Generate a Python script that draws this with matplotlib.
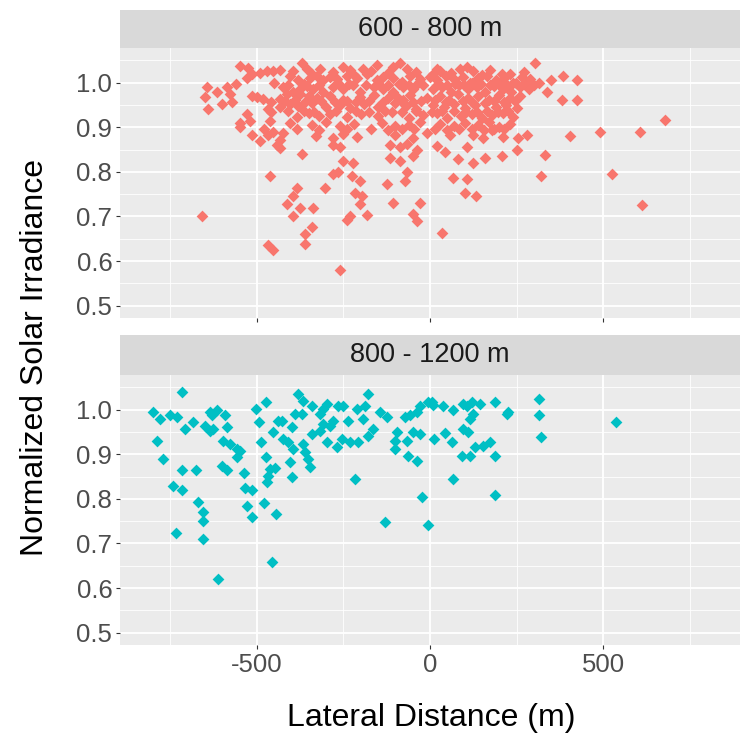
import matplotlib
matplotlib.use("Agg")
import matplotlib.pyplot as plt
import numpy as np

plt.rcParams['font.family'] = ['Liberation Sans', 'DejaVu Sans']

panel_titles = ["600 - 800 m", "800 - 1200 m"]
colors = ["#F8766D", "#00BFC4"]
x_ticks = [-500, 0, 500]
y_ticks = [0.5, 0.6, 0.7, 0.8, 0.9, 1.0]

top_x = [
    -549, -526, -514, -471, -454, -434, -370, -356, -318, -251, -231, -194, -153, -107, -87, -66, 20, 29, 87, 107, 124, 173, 208, 303,
    -529, -405, -380, -347, -327, -309, -290, -269, -240, -211, -182, -153, -136, -107, -80, -58, -29, 0, 20, 45, 70, 95, 115, 140, 165, 190, 215, 240, 265, 290, 315, 350, 384, 425,
    -644, -616, -587, -425, -396, -376, -355, -338, -309, -280, -251, -222, -202, -163, -136, -107, -78, -49, -20, 9, 35, 60, 85, 110, 135, 160, 185, 210, 235, 260, 285, 338,
    -650, -578, -514, -500, -483, -434, -413, -376, -350, -327, -289, -251, -202, -163, -120, -97, -78, -58, -10, 30, 55, 80, 110, 140, 170, 200, 230, 260, 381, 425,
    -641, -601, -572, -468, -434, -405, -380, -340, -300, -260, -230, -190, -150, -100, -70, -40, 10, 40, 70, 100, 130, 160, 190, 220, 250,
    -529, -384, -350, -320, -290, -240, -200, -150, -110, -60, -20, 20, 49, 90, 120, 150, 180, 210, 240, 679,
    -549, -520, -462, -405, -549, -340, -300, -260, -220, -140, -100, -60, -30, 30, 70, 100, 140, 170, 200, 230,
    -514, -491, -454, -468, -425, -434, -330, -280, -250, -210, -100, -50, -10, 58, 124, 153, 179, 211, 254, 280, 404, 491, 607,
    -442, -434, -370, -280, -260, -116, -87, -66, -38, 20, 43, 107, 251, 332,
    -251, -222, -116, -87, -49, 81, 124, 159, 208,
    -462, -659, -384, -396, -413, -376, -396, -361, -361, -468, -454, -280, -266, -225, -202, -303, -217, -196, -202, -338,
    -182, -231, -240, -341, -260, -124, -66, -72, -107, -29, -49, -38, 35, 66, 107, 101, 133, 321, 526, 613,
    -490, -395, -340, -280, -220, -170, -120, -40, 10, 60, 150, 230, 270,
    -560, -450, -410, -365, -320, -265, -235, -185, -150, -120, -90, -60, -35, 22, 48, 72, 98, 122, 148, 172, 198, 222, 248, 272, 300,
    -460, -420, -390, -360, -315, -275, -240, -215, -175, -135, -85, -50, -25, 15, 45, 95, 120, 185, 215, 245,
    -460, -410, -365, -335, -270, -215, -175, -130, -80, -40, 5, 35, 70, 105, 135, 165, 195, 225,
    -480, -385, -320, -240, -170, -120, -80, -45, 15, 50, 85, 120, 155, 185, 215,
]
top_y = [
    1.037, 1.032, 1.02, 1.025, 1.025, 1.028, 1.044, 1.03, 1.03, 1.035, 1.028, 1.03, 1.04, 1.035, 1.045, 1.03, 1.03, 1.025, 1.03, 1.035, 1.025, 1.028, 1.02, 1.044,
    1.01, 1.014, 1.005, 1.01, 1.015, 1.005, 1.012, 1.008, 1.015, 1.01, 1.02, 1.005, 1.012, 1.01, 1.002, 1.015, 1.008, 1.012, 1.005, 1.015, 1.008, 1.012, 1.0, 1.01, 1.015, 1.005, 1.01, 1.0, 1.012, 1.008, 1.0, 1.005, 1.014, 1.005,
    0.99, 0.98, 0.99, 0.99, 0.98, 0.985, 0.992, 0.985, 0.98, 0.99, 0.985, 0.995, 0.98, 0.99, 0.985, 0.98, 0.99, 0.985, 0.995, 0.985, 0.99, 0.98, 0.995, 0.985, 0.99, 0.98, 0.992, 0.985, 0.98, 0.99, 0.985, 0.98,
    0.968, 0.975, 0.97, 0.967, 0.963, 0.963, 0.975, 0.975, 0.97, 0.965, 0.97, 0.962, 0.968, 0.972, 0.965, 0.97, 0.962, 0.972, 0.965, 0.97, 0.962, 0.975, 0.965, 0.97, 0.962, 0.972, 0.965, 0.97, 0.96, 0.96,
    0.94, 0.952, 0.956, 0.94, 0.945, 0.952, 0.948, 0.955, 0.945, 0.95, 0.942, 0.952, 0.945, 0.955, 0.948, 0.94, 0.95, 0.945, 0.952, 0.942, 0.95, 0.955, 0.945, 0.95, 0.942,
    0.93, 0.924, 0.932, 0.925, 0.93, 0.922, 0.93, 0.925, 0.935, 0.92, 0.928, 0.932, 0.92, 0.925, 0.93, 0.92, 0.928, 0.932, 0.922, 0.917,
    0.91, 0.913, 0.913, 0.91, 0.90, 0.905, 0.912, 0.902, 0.908, 0.91, 0.902, 0.905, 0.912, 0.908, 0.902, 0.91, 0.905, 0.912, 0.9, 0.908,
    0.883, 0.87, 0.89, 0.883, 0.888, 0.872, 0.88, 0.875, 0.885, 0.878, 0.882, 0.875, 0.888, 0.883, 0.883, 0.876, 0.894, 0.878, 0.876, 0.883, 0.88, 0.89, 0.89,
    0.86, 0.853, 0.84, 0.86, 0.855, 0.86, 0.855, 0.862, 0.85, 0.858, 0.844, 0.855, 0.85, 0.837,
    0.825, 0.82, 0.83, 0.825, 0.835, 0.828, 0.82, 0.83, 0.835,
    0.79, 0.70, 0.764, 0.745, 0.727, 0.718, 0.70, 0.66, 0.638, 0.635, 0.624, 0.796, 0.80, 0.79, 0.78, 0.764, 0.752, 0.745, 0.727, 0.718,
    0.704, 0.70, 0.693, 0.677, 0.58, 0.773, 0.80, 0.78, 0.73, 0.73, 0.706, 0.69, 0.662, 0.787, 0.785, 0.752, 0.745, 0.79, 0.796, 0.725,
    1.022, 1.025, 1.02, 1.024, 1.018, 1.026, 1.022, 1.024, 1.02, 1.022, 1.018, 1.02, 1.024,
    0.996, 0.998, 0.995, 0.997, 0.994, 0.998, 0.996, 0.995, 0.998, 0.994, 0.997, 0.995, 0.998, 0.996, 0.994, 0.997, 0.995, 0.998, 0.996, 0.994, 0.997, 0.995, 0.998, 0.996, 0.994,
    0.957, 0.958, 0.96, 0.956, 0.958, 0.957, 0.959, 0.956, 0.958, 0.957, 0.959, 0.956, 0.958, 0.96, 0.957, 0.958, 0.956, 0.959, 0.957, 0.958,
    0.935, 0.937, 0.936, 0.934, 0.936, 0.937, 0.935, 0.936, 0.934, 0.937, 0.935, 0.936, 0.937, 0.935, 0.934, 0.936, 0.935, 0.937,
    0.895, 0.896, 0.894, 0.897, 0.895, 0.894, 0.896, 0.895, 0.897, 0.894, 0.896, 0.895, 0.894, 0.896, 0.895,
]

bot_x = [
    -717, -800, -780, -751, -731, -685, -708, -789, -771, -717, -676, -742, -717, -670, -656, -656, -734, -656, -613, -457,
    -636, -616, -630, -592, -587, -650, -636, -627, -598, -578, -558, -549, -558, -601, -587, -538, -535, -514, -529, -514, -480, -445,
    -503, -474, -494, -454, -488, -474, -462, -448, -468, -471, -439,
    -381, -367, -341, -390, -370, -428, -399, -425, -410, -396, -405, -399, -367, -361, -353, -347, -341, -318, -309, -318,
    -298, -309, -280, -289, -298, -269, -266, -251, -237, -254, -231, -208, -211, -188, -194, -179, -179, -165, -217, -145,
    -124, -95, -101, -101, -66, -64, -38, -72, -58, -38, -29, -49, -29, -6, -23, -130, -6,
    5, 9, 38, 66, 95, 107, 121, 145, 188, 124, 116, 225, 222, 315, 315, 537, 321, 95, 110, 43, 12, 64, 130, 153, 173, 92, 116, 188, 66, 188,
]
bot_y = [
    1.04, 0.995, 0.98, 0.987, 0.984, 0.973, 0.957, 0.93, 0.89, 0.864, 0.864, 0.828, 0.82, 0.794, 0.77, 0.75, 0.724, 0.71, 0.62, 0.658,
    0.995, 0.998, 0.987, 0.987, 0.96, 0.964, 0.953, 0.957, 0.93, 0.923, 0.912, 0.907, 0.894, 0.873, 0.864, 0.857, 0.824, 0.82, 0.785, 0.76, 0.79, 0.767,
    1.002, 1.018, 0.973, 0.95, 0.928, 0.894, 0.867, 0.869, 0.851, 0.837, 0.975,
    1.036, 1.02, 1.007, 0.99, 0.99, 0.975, 0.96, 0.934, 0.928, 0.912, 0.882, 0.848, 0.923, 0.905, 0.889, 0.871, 0.946, 0.952, 0.968, 0.99,
    1.013, 1.002, 0.975, 0.964, 0.928, 0.916, 1.007, 1.009, 0.975, 0.934, 0.928, 0.928, 1.002, 1.007, 0.98, 1.036, 0.941, 0.957, 0.844, 0.995,
    0.984, 0.95, 0.93, 0.912, 0.93, 0.896, 0.884, 0.984, 0.987, 0.995, 1.007, 0.95, 0.946, 1.018, 0.805, 0.747, 0.742,
    1.018, 1.01, 1.007, 1.0, 1.013, 1.007, 1.018, 1.013, 1.018, 0.991, 0.98, 0.995, 0.989, 1.023, 0.987, 0.973, 0.939, 0.957, 0.95, 0.948, 0.934, 0.928, 0.916, 0.919, 0.928, 0.896, 0.896, 0.896, 0.844, 0.808,
]

W, H = 746, 737
fig = plt.figure(figsize=(W / 100, H / 100), dpi=100)

def fx(px):
    return px / W

def fy(py):
    return 1 - py / H

panels = [
    dict(strip=(10, 48), plot=(48, 318), x=top_x, y=top_y),
    dict(strip=(335, 375), plot=(375, 645), x=bot_x, y=bot_y),
]
left, right = 120, 740
for i, p in enumerate(panels):
    t, b = p['plot']
    ax = fig.add_axes([fx(left), fy(b), fx(right - left), fy(t) - fy(b)])
    ax.set_facecolor('#EBEBEB')
    ax.set_xlim(-895, 895)
    ax.set_ylim(0.4725, 1.0775)
    ax.set_xticks(x_ticks)
    ax.set_xticks([-750, -250, 250, 750], minor=True)
    ax.set_yticks(y_ticks)
    ax.set_yticks([0.55, 0.65, 0.75, 0.85, 0.95, 1.05], minor=True)
    ax.grid(which='major', color='white', linewidth=1.3)
    ax.grid(which='minor', color='white', linewidth=0.6)
    ax.set_axisbelow(True)
    for s in ax.spines.values():
        s.set_visible(False)
    ax.tick_params(which='minor', length=0)
    ax.tick_params(which='major', length=3, width=0.8, color='#333333',
                   labelcolor='#4D4D4D', labelsize=18.5, pad=2.5)
    ax.set_yticklabels([f"{v:.1f}" for v in y_ticks])
    if i == 0:
        ax.tick_params(axis='x', labelbottom=False, length=3)
    else:
        ax.set_xticklabels([str(v) for v in x_ticks])
    ax.scatter(p['x'], p['y'], marker='D', s=36, color=colors[i], linewidths=0, zorder=3)

    st, sb = p['strip']
    sax = fig.add_axes([fx(left), fy(sb), fx(right - left), fy(st) - fy(sb)])
    sax.set_facecolor('#D9D9D9')
    sax.set_xticks([]); sax.set_yticks([])
    for s in sax.spines.values():
        s.set_visible(False)
    sax.text(0.5, 0.5, panel_titles[i], ha='center', va='center', fontsize=19.5,
             color='#1A1A1A', transform=sax.transAxes)

fig.text(fx(35), fy(357), 'Normalized Solar Irradiance', rotation=90, ha='center', va='center',
         fontsize=23, color='black')
fig.text(fx(431), fy(718), 'Lateral Distance (m)', ha='center', va='center',
         fontsize=23, color='black')

fig.savefig('out.png', dpi=100, facecolor='white')
